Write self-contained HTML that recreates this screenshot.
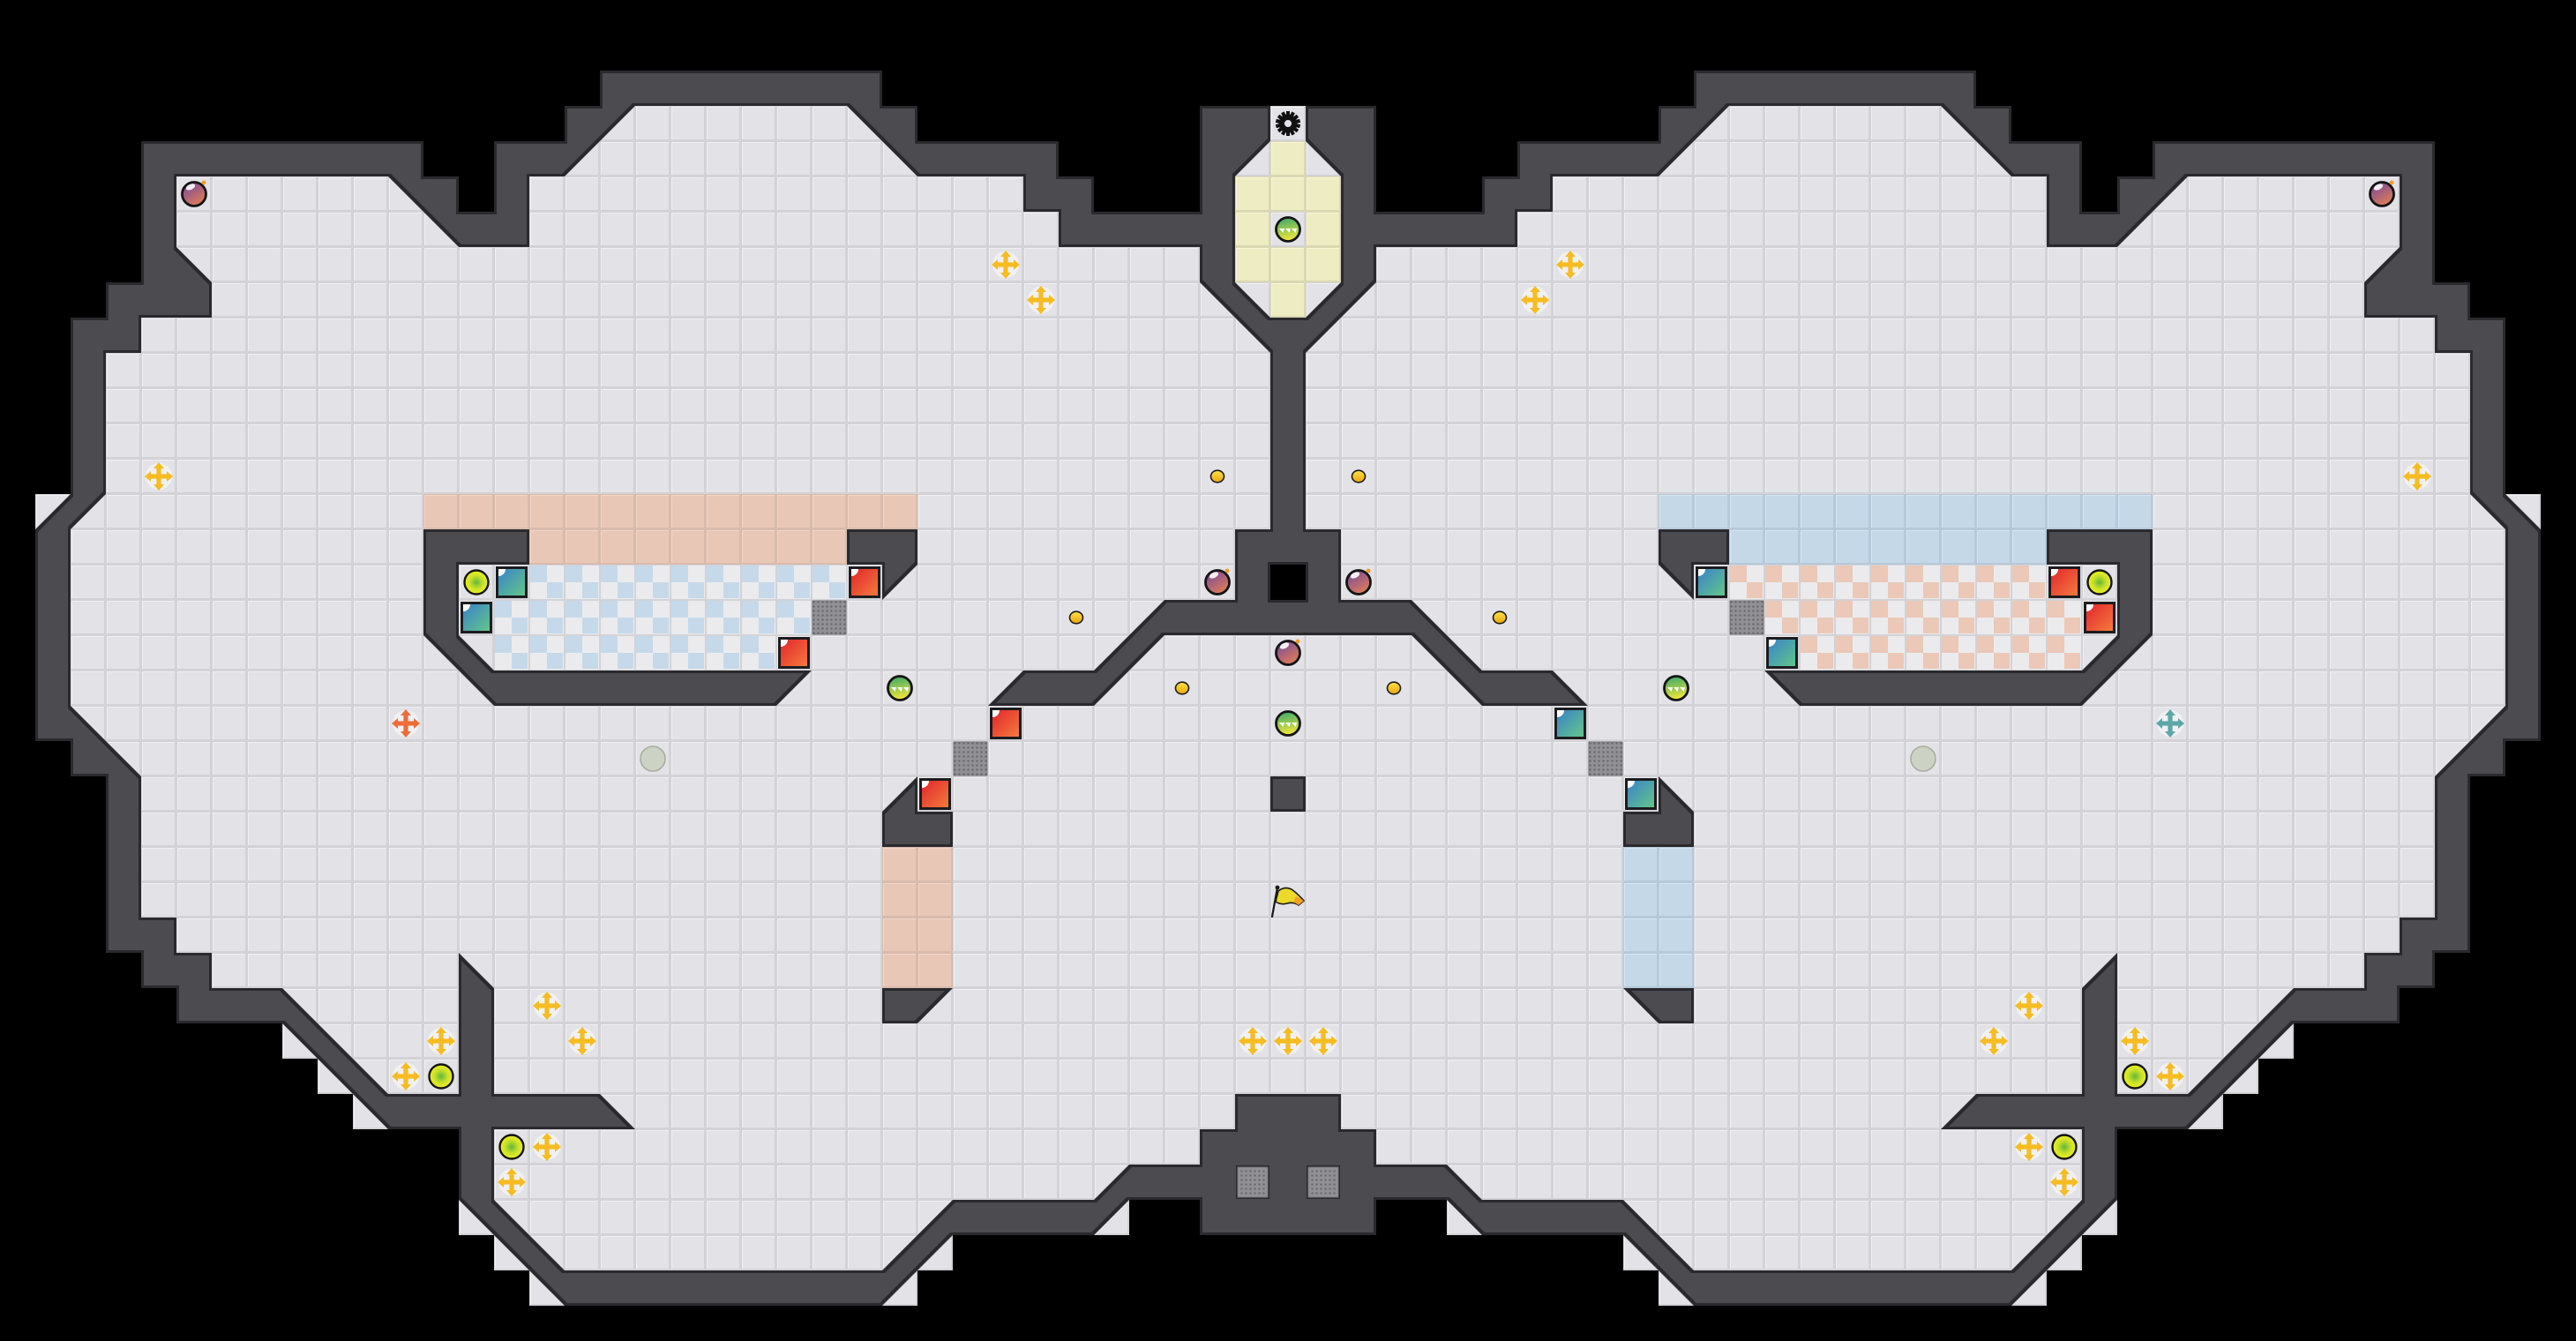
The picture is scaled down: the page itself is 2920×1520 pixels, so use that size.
<!DOCTYPE html>
<html><head><meta charset="utf-8"><title>map</title>
<style>html,body{margin:0;padding:0;background:#000;width:2920px;height:1520px;overflow:hidden}svg{display:block}</style>
</head>
<body>
<script>
(function(){
function R(){var s='';for(var i=0;i<arguments.length;i+=2){s+=new Array(arguments[i+1]+1).join(arguments[i]);}while(s.length<37)s+=' ';return s;}
var L=[
R(' ',37),
R(' ',37),
R(' ',17,'#',8,' ',12),
R(' ',16,'#',1,'1',1,'.',6,'2',1,'#',1,' ',8,'#',2,'.',1),
R(' ',4,'#',8,' ',2,'#',2,'1',1,'.',8,'2',1,'#',4,' ',4,'#',1,'1',1,'.',1),
R(' ',4,'#',1,'.',6,'2',1,'#',1,' ',1,'#',1,'.',14,'#',2,' ',3,'#',1,'.',2),
R(' ',4,'#',1,'.',7,'2',1,'#',2,'.',15,'#',5,'.',2),
R(' ',4,'#',1,'3',1,'.',28,'#',1,'.',2),
R(' ',3,'#',3,'.',28,'2',1,'3',1,'.',1),
R(' ',2,'#',2,'.',31,'2',1,'#',1),
R(' ',2,'#',1,'.',33,'#',1),
R(' ',2,'#',1,'.',33,'#',1),
R(' ',2,'#',1,'.',33,'#',1),
R(' ',2,'#',1,'.',33,'#',1),
R(' ',1,'4',1,'1',1,'.',33,'#',1),
R(' ',1,'#',1,'.',10,'#',3,'.',9,'#',2,'.',9,'#',2),
R(' ',1,'#',1,'.',10,'#',1,'.',12,'1',1,'.',9,'#',1,' ',1),
R(' ',1,'#',1,'.',10,'#',1,'.',19,'4',1,'#',4),
R(' ',1,'#',1,'.',10,'2',1,'3',1,'.',17,'4',1,'1',1,'.',4),
R(' ',1,'#',1,'.',11,'2',1,'#',8,'1',1,'.',5,'4',1,'#',2,'1',1,'.',5),
R(' ',1,'#',1,'3',1,'.',34),
R(' ',2,'#',1,'3',1,'.',33),
R(' ',3,'#',1,'.',21,'4',1,'.',10,'#',1),
R(' ',3,'#',1,'.',21,'#',2,'.',10),
R(' ',3,'#',1,'.',33),
R(' ',3,'#',1,'.',33),
R(' ',3,'#',2,'.',32),
R(' ',4,'#',2,'.',7,'3',1,'.',23),
R(' ',5,'#',3,'3',1,'.',4,'#',1,'.',11,'#',1,'1',1,'.',10),
R(' ',8,'2',1,'3',1,'.',3,'#',1,'.',23),
R(' ',9,'2',1,'3',1,'.',2,'#',1,'.',23),
R(' ',10,'2',1,'#',6,'3',1,'.',17,'#',2),
R(' ',13,'#',1,'.',20,'#',3),
R(' ',13,'#',1,'.',17,'4',1,'#',5),
R(' ',13,'2',1,'3',1,'.',11,'4',1,'#',4,'1',1,' ',2,'#',3),
R(' ',14,'2',1,'3',1,'.',9,'4',1,'1',1,' ',10),
R(' ',15,'2',1,'#',9,'1',1,' ',11),
R(' ',37)
];
var mm={' ':' ','.':'.','#':'#','1':'2','2':'1','3':'4','4':'3'};
var G=[];
for(var r=0;r<38;r++){var a=L[r];var row=[];for(var c=0;c<73;c++){var ch=c<=36?a.charAt(c):a.charAt(72-c);if(c>36)ch=mm[ch]||' ';row.push(ch||' ');}G.push(row);}

var F=[],T=[],W=[],D=[];
// floor
for(var r=0;r<38;r++){var c=0;while(c<73){if(G[r][c]!==' '){var s=c;while(c<73&&G[r][c]!==' ')c++;F.push('<rect x="'+s*40+'" y="'+r*40+'" width="'+(c-s)*40+'" height="40" fill="url(#pf)"/>');}else c++;}}
// tints
function TT(c0,c1,r,p){T.push('<rect x="'+c0*40+'" y="'+r*40+'" width="'+(c1-c0+1)*40+'" height="40" fill="url(#'+p+')"/>');}
TT(12,25,14,'pp');TT(15,23,15,'pp');for(var k=24;k<=27;k++)TT(25,26,k,'pp');
TT(15,23,16,'cb');TT(14,22,17,'cb');TT(14,21,18,'cb');
TT(47,60,14,'pb');TT(49,57,15,'pb');for(var k=24;k<=27;k++)TT(46,47,k,'pb');
TT(49,57,16,'cp');TT(50,58,17,'cp');TT(51,58,18,'cp');
TT(36,36,4,'py');TT(35,37,5,'py');TT(35,35,6,'py');TT(37,37,6,'py');TT(35,37,7,'py');TT(36,36,8,'py');
// walls
for(var r=0;r<38;r++){var c=0;while(c<73){var ch=G[r][c];var x=c*40,y=r*40;
 if(ch==='#'){var s=c;while(c<73&&G[r][c]==='#')c++;W.push('<rect x="'+s*40+'" y="'+y+'" width="'+(c-s)*40+'" height="40"/>');continue;}
 var pts=null;
 if(ch==='1')pts=[x,y,x+40,y,x,y+40];
 else if(ch==='2')pts=[x,y,x+40,y,x+40,y+40];
 else if(ch==='3')pts=[x,y,x,y+40,x+40,y+40];
 else if(ch==='4')pts=[x+40,y,x+40,y+40,x,y+40];
 if(pts)W.push('<polygon points="'+pts.join(',')+'"/>');
 c++;}}
// items
function P(c,r){return [c*40+20,r*40+20];}
function tr(p){return 'translate('+p[0]+','+p[1]+')';}
function bomb(c,r){D.push('<g transform="'+tr(P(c,r))+'"><circle r="13.5" fill="url(#gBomb)" stroke="#141414" stroke-width="2.8"/><ellipse cx="-4" cy="-8" rx="5.5" ry="3" fill="#fff" opacity=".9" transform="rotate(-25 -4 -8)"/><circle cx="11" cy="-13" r="2.4" fill="#f39a2c"/></g>');}
function gem(c,r){D.push('<g transform="'+tr(P(c,r))+'"><circle r="13.5" fill="url(#gGem)" stroke="#141414" stroke-width="2.8"/><path d="M-10,-1 h6 l-1.5,5 z M-3,-1 h6 l-1.5,5 z M4,-1 h6 l-1.5,5 z" fill="#fff"/></g>');}
function ball(c,r){var p=P(c,r);D.push('<circle cx="'+p[0]+'" cy="'+p[1]+'" r="13.5" fill="url(#gBall)" stroke="#141414" stroke-width="2.4"/>');}
function block(c,r,g){var x=c*40,y=r*40;D.push('<rect x="'+(x+2)+'" y="'+(y+2)+'" width="36" height="36" fill="#1c1c1f"/><rect x="'+(x+5)+'" y="'+(y+5)+'" width="30" height="30" fill="url(#'+g+')"/><path d="M'+(x+5)+','+(y+5)+' h8 a8,8 0 0 1 -8,8 z" fill="#fff"/>');}
function grate(c,r,i){var x=c*40,y=r*40;if(i>1)D.push('<rect x="'+(x+1)+'" y="'+(y+1)+'" width="38" height="38" fill="#2a2a2e"/>');D.push('<rect x="'+(x+i)+'" y="'+(y+i)+'" width="'+(40-2*i)+'" height="'+(40-2*i)+'" fill="url(#pd)" stroke="#77777b" stroke-width="1"/>');}
function plus(c,r,col){D.push('<g transform="'+tr(P(c,r))+'"><circle r="15" fill="#f7f7f9" opacity=".7"/><g fill="'+col+'"><rect x="-11" y="-2.6" width="22" height="5.2"/><rect x="-2.6" y="-11" width="5.2" height="22"/><path d="M-16,0 L-9,-6 L-9,6Z M16,0 L9,-6 L9,6Z M0,-16 L-6,-9 L6,-9Z M0,16 L-6,9 L6,9Z"/></g></g>');}
function coin(c,r){var p=P(c,r);D.push('<ellipse cx="'+p[0]+'" cy="'+p[1]+'" rx="7.5" ry="6.8" fill="url(#gCoin)" stroke="#1a1a1a" stroke-width="1.6"/>');}
function gray(c,r){var p=P(c,r);D.push('<circle cx="'+p[0]+'" cy="'+p[1]+'" r="14" fill="#ccd2c4" stroke="#a7ad9f" stroke-width="1.6"/>');}
var Y='#f6bc22',O='#ee6c3a',TE='#5ba8a7';
bomb(5,5);bomb(34,16);bomb(36,18);bomb(67,5);bomb(38,16);
[[28,7],[29,8],[4,13],[15,28],[12,29],[16,29],[11,30],[15,32],[14,33],[35,29],[36,29],[37,29],
 [44,7],[43,8],[68,13],[57,28],[56,29],[60,29],[61,30],[57,32],[58,33]].forEach(function(q){plus(q[0],q[1],Y);});
plus(11,20,O);plus(61,20,TE);
[[34,13],[30,17],[33,19],[38,13],[42,17],[39,19]].forEach(function(q){coin(q[0],q[1]);});
[[13,16],[12,30],[14,32],[59,16],[60,30],[58,32]].forEach(function(q){ball(q[0],q[1]);});
block(14,16,'gT');block(13,17,'gT');block(48,16,'gT');block(50,18,'gT');block(44,20,'gT');block(46,22,'gT');
block(24,16,'gR');block(22,18,'gR');block(28,20,'gR');block(26,22,'gR');block(58,16,'gR');block(59,17,'gR');
grate(23,17,1);grate(27,21,1);grate(49,17,1);grate(45,21,1);grate(35,33,3);grate(37,33,3);
gem(36,6);gem(25,19);gem(36,20);gem(47,19);
gray(18,21);gray(54,21);
// gear
var g='<g transform="translate(1460,140)"><circle r="10.5" fill="#111"/>';
for(var i=0;i<14;i++){g+='<rect x="-2" y="-14" width="4" height="6" fill="#111" transform="rotate('+(i*360/14)+')"/>';}
g+='<circle r="4" fill="#e4e4e8"/></g>';D.push(g);
// flag
D.push('<g><line x1="1442" y1="1039" x2="1448" y2="1006" stroke="#1a1a1a" stroke-width="2.2" stroke-linecap="round"/><circle cx="1448" cy="1006" r="2.4" fill="#1a1a1a"/>'+
'<path d="M1449,1010 Q1456,1004 1464,1008 Q1470,1012 1478,1021 L1472,1026 Q1466,1022 1459,1024 Q1452,1026 1446,1022 Z" fill="#ecd92a" stroke="#1a1a1a" stroke-width="1.6"/>'+
'<path d="M1469,1016 L1478,1021 L1472,1026 Q1468,1023 1466,1023 Z" fill="#f2a024"/></g>');

var defs='<defs>'+
'<pattern id="pf" width="40" height="40" patternUnits="userSpaceOnUse"><rect width="40" height="40" fill="#d2d2d7"/><rect x="1" y="1" width="37" height="37" fill="#f0f0f2"/><rect x="2" y="2" width="36" height="36" fill="#e3e3e7"/></pattern>'+
'<pattern id="pp" width="40" height="40" patternUnits="userSpaceOnUse"><rect width="40" height="40" fill="#d9bbad"/><rect x="1" y="1" width="37" height="37" fill="#f1d6c9"/><rect x="2" y="2" width="36" height="36" fill="#e9c7b7"/></pattern>'+
'<pattern id="pb" width="40" height="40" patternUnits="userSpaceOnUse"><rect width="40" height="40" fill="#b6c9da"/><rect x="1" y="1" width="37" height="37" fill="#d6e5f1"/><rect x="2" y="2" width="36" height="36" fill="#c5d8e8"/></pattern>'+
'<pattern id="py" width="40" height="40" patternUnits="userSpaceOnUse"><rect width="40" height="40" fill="#dad8b2"/><rect x="1" y="1" width="37" height="37" fill="#f7f5d6"/><rect x="2" y="2" width="36" height="36" fill="#eeecc3"/></pattern>'+
'<pattern id="cb" width="40" height="40" patternUnits="userSpaceOnUse"><rect width="40" height="40" fill="#d2d2d7"/><rect x="1" y="1" width="38" height="38" fill="#ebebee"/><rect x="1" y="1" width="19" height="19" fill="#c6d9ea"/><rect x="20" y="20" width="18" height="18" fill="#c6d9ea"/></pattern>'+
'<pattern id="cp" width="40" height="40" patternUnits="userSpaceOnUse"><rect width="40" height="40" fill="#d2d2d7"/><rect x="1" y="1" width="38" height="38" fill="#ebebee"/><rect x="1" y="1" width="19" height="19" fill="#ebc8b8"/><rect x="20" y="20" width="18" height="18" fill="#ebc8b8"/></pattern>'+
'<pattern id="pd" width="5" height="5" patternUnits="userSpaceOnUse"><rect width="5" height="5" fill="#919195"/><rect x="1.5" y="1.5" width="2" height="2" fill="#646468"/></pattern>'+
'<linearGradient id="gBomb" x1="0" y1="0" x2="0.6" y2="1"><stop offset="0" stop-color="#6f45a3"/><stop offset="1" stop-color="#dc7b58"/></linearGradient>'+
'<linearGradient id="gGem" x1="0" y1="0" x2="0.2" y2="1"><stop offset="0" stop-color="#2fa56d"/><stop offset="1" stop-color="#ece53a"/></linearGradient>'+
'<radialGradient id="gBall" cx="0.5" cy="0.5" r="0.5"><stop offset="0" stop-color="#62b83a"/><stop offset="0.55" stop-color="#c9e02a"/><stop offset="1" stop-color="#eef21c"/></radialGradient>'+
'<linearGradient id="gT" x1="0" y1="0" x2="1" y2="1"><stop offset="0" stop-color="#3a82c8"/><stop offset="1" stop-color="#62c68a"/></linearGradient>'+
'<linearGradient id="gR" x1="0" y1="0" x2="1" y2="1"><stop offset="0" stop-color="#e2262e"/><stop offset="1" stop-color="#f47a3c"/></linearGradient>'+
'<linearGradient id="gCoin" x1="0" y1="0" x2="0" y2="1"><stop offset="0" stop-color="#ffe24a"/><stop offset="1" stop-color="#e8a60a"/></linearGradient>'+
'<filter id="wf" filterUnits="userSpaceOnUse" x="0" y="0" width="2920" height="1520" color-interpolation-filters="sRGB">'+
'<feMorphology in="SourceAlpha" operator="erode" radius="3" result="er"/>'+
'<feFlood flood-color="#2a2a2e" result="c1"/><feComposite in="c1" in2="SourceAlpha" operator="in" result="o"/>'+
'<feFlood flood-color="#4b4b50" result="c2"/><feComposite in="c2" in2="er" operator="in" result="i"/>'+
'<feMerge><feMergeNode in="o"/><feMergeNode in="i"/></feMerge></filter>'+
'</defs>';

var svg='<svg xmlns="http://www.w3.org/2000/svg" width="2920" height="1520" viewBox="0 0 2920 1520">'+defs+
'<rect width="2920" height="1520" fill="#000"/>'+
'<g>'+F.join('')+'</g>'+
'<g>'+T.join('')+'</g>'+
'<g filter="url(#wf)" fill="#4b4b50">'+W.join('')+'</g>'+
'<g>'+D.join('')+'</g>'+
'</svg>';
document.body.innerHTML=svg;
})();
</script>
</body></html>
